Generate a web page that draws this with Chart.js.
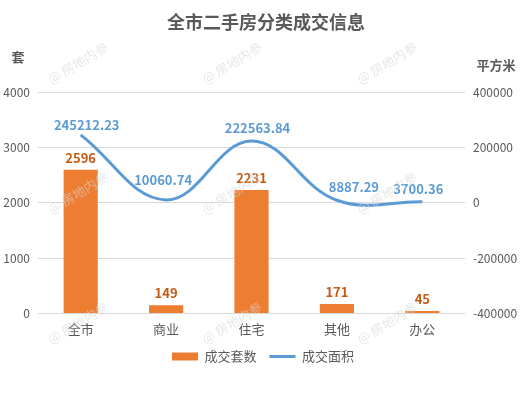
<!DOCTYPE html>
<html>
<head>
<meta charset="utf-8">
<script src="https://cdn.jsdelivr.net/npm/chart.js@4.4.0/dist/chart.umd.min.js"></script>
<style>
  html, body { margin: 0; padding: 0; background: #fff; }
  #wrap { width: 526px; height: 394px; position: relative; }
</style>
</head>
<body>
<div id="wrap"><canvas id="chart"></canvas></div>
<script>
const categories = ['全市', '商业', '住宅', '其他', '办公'];
const dealCounts = [2596, 149, 2231, 171, 45];
const dealAreas = [245212.23, 10060.74, 222563.84, 8887.29, 3700.36];
const leftTicks = [0, 1000, 2000, 3000, 4000];
const rightTicks = [-400000, -200000, 0, 200000, 400000];

const FONT = "'Noto Sans CJK SC', 'Noto Sans', sans-serif";
const TEXT = '#595959';
const ORANGE = '#ED7D31';
const BLUE = '#5B9BD5';

// label nudges so the line labels sit roughly where the original puts them
const areaLabelDx = [6, -3, 6, 17, -4];
const areaLabelDy = [-10, -20, -13, -13, -13];

const decorPlugin = {
  id: 'decor',
  afterDraw(chart) {
    const ctx = chart.ctx;
    ctx.save();
    ctx.fillStyle = TEXT;
    ctx.textAlign = 'center';
    ctx.textBaseline = 'middle';
    ctx.font = 'bold 18px ' + FONT;
    ctx.fillText('全市二手房分类成交信息', 266, 22);
    ctx.font = 'bold 13px ' + FONT;
    ctx.fillText('套', 18, 57);
    ctx.fillText('平方米', 496, 65);

    // watermarks
    ctx.font = '13px ' + FONT;
    ctx.fillStyle = 'rgba(215,215,215,0.6)';
    [78, 232, 387].forEach(x => {
      [63, 193, 323].forEach(y => {
        ctx.save();
        ctx.translate(x, y);
        ctx.rotate(-31 * Math.PI / 180);
        ctx.fillText('@ 房地内参', 0, 0);
        ctx.restore();
      });
    });
    ctx.restore();
  },
  afterDatasetsDraw(chart) {
    const ctx = chart.ctx;
    ctx.save();
    ctx.textAlign = 'center';
    ctx.textBaseline = 'middle';
    ctx.font = 'bold 13px ' + FONT;

    const bars = chart.getDatasetMeta(0).data;
    ctx.fillStyle = '#C55A11';
    bars.forEach((bar, i) => {
      ctx.fillText(String(dealCounts[i]), bar.x, bar.y - 12);
    });

    const pts = chart.getDatasetMeta(1).data;
    ctx.fillStyle = BLUE;
    pts.forEach((p, i) => {
      ctx.fillText(dealAreas[i].toFixed(2), p.x + areaLabelDx[i], p.y + areaLabelDy[i]);
    });
    ctx.restore();
  }
};

new Chart(document.getElementById('chart'), {
  data: {
    labels: categories,
    datasets: [{
      type: 'bar',
      label: '成交套数',
      data: dealCounts,
      backgroundColor: ORANGE,
      barPercentage: 0.4,
      categoryPercentage: 1,
      yAxisID: 'y',
      order: 2,
      pointStyle: 'rect'
    }, {
      type: 'line',
      label: '成交面积',
      data: dealAreas,
      borderColor: BLUE,
      backgroundColor: BLUE,
      borderWidth: 3,
      tension: 0.4,
      pointRadius: 0,
      yAxisID: 'y1',
      order: 1,
      pointStyle: 'line'
    }]
  },
  options: {
    responsive: true,
    maintainAspectRatio: false,
    animation: false,
    layout: { padding: { top: 92, left: 0, right: 0, bottom: 21 } },
    scales: {
      x: {
        grid: { display: false },
        border: { display: false },
        ticks: { color: TEXT, font: { family: FONT, size: 13 }, padding: 0 }
      },
      y: {
        position: 'left',
        min: 0,
        max: 4000,
        afterBuildTicks(scale) { scale.ticks = leftTicks.map(v => ({ value: v })); },
        afterFit(scale) { scale.width = 38; },
        grid: { color: '#D9D9D9', drawTicks: false },
        border: { display: false },
        ticks: { color: TEXT, font: { family: FONT, size: 12 }, padding: 8, callback: v => String(v) }
      },
      y1: {
        position: 'right',
        min: -400000,
        max: 400000,
        afterBuildTicks(scale) { scale.ticks = rightTicks.map(v => ({ value: v })); },
        afterFit(scale) { scale.width = 61; },
        grid: { display: false, drawTicks: false },
        border: { display: false },
        ticks: { color: TEXT, font: { family: FONT, size: 12 }, padding: 8, callback: v => String(v) }
      }
    },
    plugins: {
      title: { display: false },
      tooltip: { enabled: false },
      legend: {
        position: 'bottom',
        labels: {
          usePointStyle: true,
          pointStyleWidth: 26,
          boxHeight: 8,
          color: TEXT,
          font: { family: FONT, size: 13 },
          padding: 13,
          sort: (a, b) => a.datasetIndex - b.datasetIndex
        }
      }
    }
  },
  plugins: [decorPlugin]
});
</script>
</body>
</html>
